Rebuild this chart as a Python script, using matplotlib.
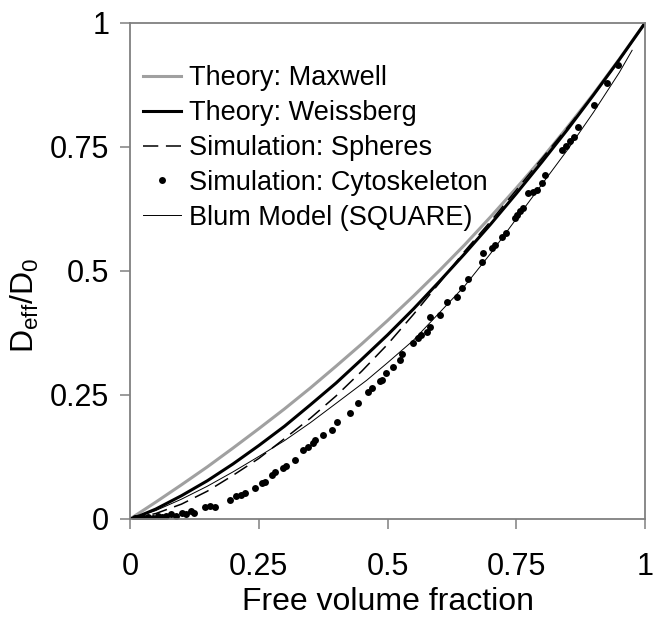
import matplotlib
matplotlib.use("Agg")
import matplotlib.pyplot as plt

plt.rcParams['font.family'] = ['Liberation Sans', 'DejaVu Sans']
plt.rcParams['mathtext.fontset'] = 'custom'
plt.rcParams['mathtext.rm'] = 'Liberation Sans'
plt.rcParams['mathtext.it'] = 'Liberation Sans'

# Theory: Maxwell
maxwell_x = [0, 0.05, 0.1, 0.15, 0.2, 0.25, 0.3, 0.35, 0.4, 0.45, 0.5,
             0.55, 0.6, 0.65, 0.7, 0.75, 0.8, 0.85, 0.9, 0.95, 1.0]
maxwell_y = [0, 0.034, 0.069, 0.105, 0.143, 0.182, 0.222, 0.264, 0.308, 0.353, 0.400,
             0.449, 0.500, 0.553, 0.609, 0.667, 0.727, 0.791, 0.857, 0.927, 1.0]

# Theory: Weissberg
weiss_x = [0, 0.02, 0.05, 0.1, 0.15, 0.2, 0.25, 0.3, 0.35, 0.4, 0.45, 0.5,
           0.55, 0.6, 0.65, 0.7, 0.75, 0.8, 0.85, 0.9, 0.95, 1.0]
weiss_y = [0, 0.007, 0.020, 0.047, 0.077, 0.111, 0.148, 0.187, 0.230, 0.274, 0.322, 0.371,
           0.423, 0.478, 0.535, 0.594, 0.656, 0.720, 0.786, 0.855, 0.926, 1.0]

# Simulation: Spheres
sph_x = [0, 0.05, 0.1, 0.15, 0.2, 0.25, 0.3, 0.35, 0.4, 0.45, 0.5,
         0.55, 0.6, 0.65, 0.7, 0.75, 0.8, 0.85, 0.9, 0.95, 1.0]
sph_y = [0, 0.011, 0.030, 0.056, 0.088, 0.122, 0.162, 0.203, 0.248, 0.298, 0.352,
         0.412, 0.475, 0.540, 0.600, 0.663, 0.727, 0.790, 0.855, 0.925, 1.0]

# Simulation: Cytoskeleton
cyto_x = [0.010, 0.020, 0.028, 0.035, 0.045, 0.055, 0.062, 0.070, 0.080, 0.090,
          0.100, 0.108, 0.118, 0.125, 0.146, 0.156, 0.166, 0.194, 0.205, 0.215,
          0.223, 0.243, 0.256, 0.262, 0.276, 0.282, 0.297, 0.303, 0.320, 0.336,
          0.345, 0.355, 0.360, 0.375, 0.392, 0.402, 0.427, 0.443, 0.462, 0.469,
          0.485, 0.489, 0.498, 0.511, 0.524, 0.528, 0.550, 0.560, 0.566, 0.576,
          0.583, 0.583, 0.602, 0.615, 0.634, 0.644, 0.657, 0.683, 0.686, 0.702,
          0.709, 0.722, 0.730, 0.748, 0.751, 0.757, 0.763, 0.773, 0.782, 0.790,
          0.800, 0.806, 0.839, 0.846, 0.854, 0.862, 0.870, 0.900, 0.926, 0.948]
cyto_y = [0.002, 0.002, 0.003, 0.004, 0.003, 0.006, 0.004, 0.007, 0.010, 0.006,
          0.012, 0.010, 0.016, 0.012, 0.025, 0.027, 0.025, 0.038, 0.046, 0.049,
          0.052, 0.062, 0.072, 0.075, 0.088, 0.095, 0.102, 0.106, 0.119, 0.139,
          0.146, 0.153, 0.160, 0.169, 0.179, 0.196, 0.214, 0.234, 0.256, 0.264,
          0.278, 0.280, 0.294, 0.307, 0.321, 0.333, 0.354, 0.364, 0.371, 0.378,
          0.388, 0.407, 0.411, 0.438, 0.448, 0.465, 0.484, 0.519, 0.536, 0.546,
          0.552, 0.569, 0.576, 0.606, 0.613, 0.620, 0.627, 0.657, 0.660, 0.663,
          0.677, 0.693, 0.744, 0.752, 0.762, 0.770, 0.790, 0.835, 0.879, 0.915]

# Blum Model (SQUARE)
blum_x = [0, 0.05, 0.1, 0.15, 0.2, 0.25, 0.3, 0.35, 0.4, 0.46, 0.5,
          0.55, 0.6, 0.65, 0.7, 0.75, 0.8, 0.85, 0.9, 0.95, 0.975]
blum_y = [0, 0.017, 0.040, 0.066, 0.095, 0.126, 0.158, 0.194, 0.233, 0.280, 0.315,
          0.360, 0.415, 0.470, 0.535, 0.605, 0.675, 0.745, 0.820, 0.900, 0.945]

ticks = [0, 0.25, 0.5, 0.75, 1]
tick_labels = ['0', '0.25', '0.5', '0.75', '1']

fig = plt.figure(figsize=(6.58, 6.18), dpi=100)
ax = fig.add_axes([130/658, 1-519/618, 515/658, 496/618])

ax.plot(maxwell_x, maxwell_y, color='#a0a0a0', lw=2.2, label='Theory: Maxwell')
ax.plot(weiss_x, weiss_y, color='black', lw=2.2, label='Theory: Weissberg')
ax.plot(sph_x, sph_y, color='black', lw=1.1, dashes=(10, 5), label='Simulation: Spheres')
ax.plot(cyto_x, cyto_y, 'o', color='black', ms=5, mew=0, ls='none',
        label='Simulation: Cytoskeleton')
ax.plot(blum_x, blum_y, color='black', lw=0.7, label='Blum Model (SQUARE)')

ax.set_xlim(0, 1)
ax.set_ylim(0, 1)
ax.set_xticks(ticks)
ax.set_xticklabels(tick_labels)
ax.set_yticks(ticks)
ax.set_yticklabels(tick_labels)

for s in ax.spines.values():
    s.set_color('#808080')
    s.set_linewidth(1.3)
ax.tick_params(axis='both', which='major', length=7, width=1.1, color='#808080',
               labelsize=22, direction='out')
ax.tick_params(axis='x', pad=17)
ax.tick_params(axis='y', pad=8)

ax.set_xlabel('Free volume fraction', fontsize=23, labelpad=3)
ax.set_ylabel(r'D$_{\mathrm{eff}}$/D$_{0}$', fontsize=23)
ax.yaxis.set_label_coords(-0.172, 0.43)

leg = ax.legend(loc='upper left', bbox_to_anchor=(0.025, 0.915), frameon=False,
                fontsize=19.5, handlelength=1.4, handletextpad=0.3, labelspacing=0.33,
                borderpad=0, borderaxespad=0, numpoints=1)

fig.savefig('out.png', dpi=100)
